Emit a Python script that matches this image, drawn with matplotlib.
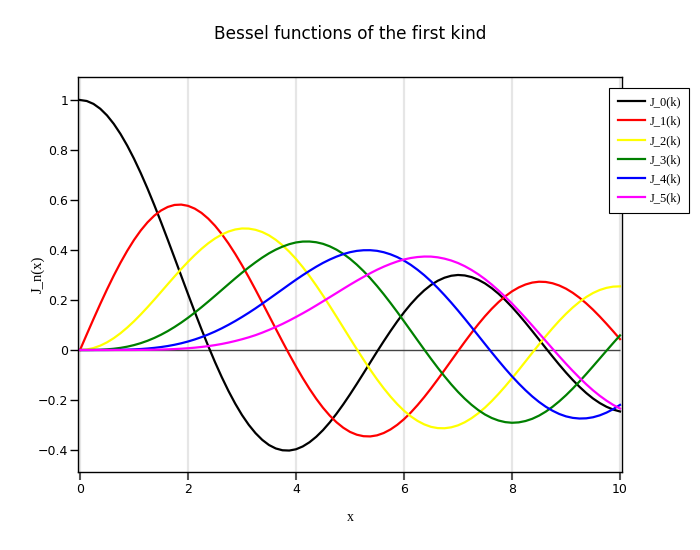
import matplotlib
matplotlib.use("Agg")
import matplotlib.pyplot as plt
from matplotlib.ticker import FuncFormatter

# sample points, step 0.125
x = [0.0, 0.125, 0.25, 0.375, 0.5, 0.625, 0.75, 0.875,
     1.0, 1.125, 1.25, 1.375, 1.5, 1.625, 1.75, 1.875,
     2.0, 2.125, 2.25, 2.375, 2.5, 2.625, 2.75, 2.875,
     3.0, 3.125, 3.25, 3.375, 3.5, 3.625, 3.75, 3.875,
     4.0, 4.125, 4.25, 4.375, 4.5, 4.625, 4.75, 4.875,
     5.0, 5.125, 5.25, 5.375, 5.5, 5.625, 5.75, 5.875,
     6.0, 6.125, 6.25, 6.375, 6.5, 6.625, 6.75, 6.875,
     7.0, 7.125, 7.25, 7.375, 7.5, 7.625, 7.75, 7.875,
     8.0, 8.125, 8.25, 8.375, 8.5, 8.625, 8.75, 8.875,
     9.0, 9.125, 9.25, 9.375, 9.5, 9.625, 9.75, 9.875,
     10.0]

j0 = [1.0, 0.9960, 0.9844, 0.9651, 0.9385, 0.9047, 0.8642, 0.8175,
      0.7652, 0.7077, 0.6459, 0.5803, 0.5118, 0.4411, 0.3690, 0.2963,
      0.2239, 0.1524, 0.0827, 0.0156, -0.0484, -0.1084, -0.1641, -0.2148,
      -0.2601, -0.2993, -0.3325, -0.3595, -0.3801, -0.3938, -0.4011, -0.4022,
      -0.3971, -0.3858, -0.3690, -0.3471, -0.3205, -0.2896, -0.2550, -0.2175,
      -0.1776, -0.1359, -0.0931, -0.0498, -0.0068, 0.0352, 0.0758, 0.1145,
      0.1506, 0.1835, 0.2129, 0.2386, 0.2601, 0.2769, 0.2892, 0.2970,
      0.3001, 0.2982, 0.2918, 0.2811, 0.2663, 0.2474, 0.2251, 0.1997,
      0.1717, 0.1413, 0.1092, 0.0759, 0.0419, 0.0078, -0.0259, -0.0588,
      -0.0903, -0.1199, -0.1473, -0.1721, -0.1939, -0.2122, -0.2271, -0.2384,
      -0.2459]
j1 = [0.0, 0.0624, 0.1240, 0.1842, 0.2423, 0.2975, 0.3492, 0.3969,
      0.4401, 0.4781, 0.5106, 0.5373, 0.5579, 0.5722, 0.5802, 0.5816,
      0.5767, 0.5655, 0.5484, 0.5254, 0.4971, 0.4638, 0.4260, 0.3842,
      0.3391, 0.2912, 0.2411, 0.1896, 0.1374, 0.0851, 0.0333, -0.0173,
      -0.0660, -0.1122, -0.1554, -0.1952, -0.2311, -0.2624, -0.2890, -0.3108,
      -0.3276, -0.3388, -0.3448, -0.3457, -0.3414, -0.3320, -0.3178, -0.2993,
      -0.2767, -0.2503, -0.2206, -0.1883, -0.1538, -0.1176, -0.0803, -0.0425,
      -0.0047, 0.0325, 0.0685, 0.1029, 0.1352, 0.1648, 0.1914, 0.2148,
      0.2346, 0.2503, 0.2620, 0.2697, 0.2731, 0.2721, 0.2670, 0.2580,
      0.2453, 0.2288, 0.2090, 0.1864, 0.1613, 0.1339, 0.1048, 0.0746,
      0.0435]
j2 = [0.0, 0.0020, 0.0078, 0.0174, 0.0306, 0.0473, 0.0671, 0.0898,
      0.1149, 0.1422, 0.1711, 0.2012, 0.2321, 0.2632, 0.2940, 0.3240,
      0.3528, 0.3798, 0.4047, 0.4269, 0.4461, 0.4618, 0.4739, 0.4821,
      0.4861, 0.4856, 0.4808, 0.4719, 0.4586, 0.4408, 0.4189, 0.3933,
      0.3641, 0.3315, 0.2959, 0.2579, 0.2178, 0.1761, 0.1334, 0.0900,
      0.0466, 0.0037, -0.0382, -0.0788, -0.1173, -0.1533, -0.1864, -0.2164,
      -0.2429, -0.2652, -0.2835, -0.2976, -0.3074, -0.3124, -0.3130, -0.3093,
      -0.3014, -0.2891, -0.2729, -0.2532, -0.2303, -0.2043, -0.1757, -0.1452,
      -0.1130, -0.0797, -0.0457, -0.0115, 0.0223, 0.0552, 0.0869, 0.1169,
      0.1448, 0.1701, 0.1925, 0.2119, 0.2279, 0.2401, 0.2486, 0.2535,
      0.2546]
j3 = [0.0, 0.0000, 0.0003, 0.0011, 0.0026, 0.0050, 0.0085, 0.0133,
      0.0196, 0.0274, 0.0369, 0.0481, 0.0610, 0.0756, 0.0919, 0.1097,
      0.1289, 0.1495, 0.1711, 0.1936, 0.2166, 0.2400, 0.2634, 0.2866,
      0.3091, 0.3305, 0.3507, 0.3697, 0.3868, 0.4014, 0.4135, 0.4233,
      0.4302, 0.4337, 0.4339, 0.4310, 0.4247, 0.4147, 0.4013, 0.3847,
      0.3648, 0.3417, 0.3157, 0.2871, 0.2561, 0.2230, 0.1881, 0.1520,
      0.1148, 0.0771, 0.0392, 0.0016, -0.0353, -0.0710, -0.1052, -0.1376,
      -0.1676, -0.1948, -0.2191, -0.2403, -0.2581, -0.2720, -0.2821, -0.2885,
      -0.2911, -0.2895, -0.2841, -0.2752, -0.2626, -0.2466, -0.2273, -0.2053,
      -0.1809, -0.1542, -0.1258, -0.0961, -0.0653, -0.0341, -0.0028, 0.0281,
      0.0584]
j4 = [0.0, 0.0000, 0.0000, 0.0001, 0.0002, 0.0004, 0.0008, 0.0015,
      0.0025, 0.0039, 0.0059, 0.0085, 0.0118, 0.0159, 0.0209, 0.0269,
      0.0340, 0.0422, 0.0515, 0.0621, 0.0738, 0.0867, 0.1008, 0.1159,
      0.1320, 0.1489, 0.1666, 0.1852, 0.2043, 0.2235, 0.2427, 0.2621,
      0.2811, 0.2993, 0.3166, 0.3332, 0.3484, 0.3618, 0.3735, 0.3835,
      0.3912, 0.3964, 0.3990, 0.3992, 0.3967, 0.3911, 0.3827, 0.3716,
      0.3576, 0.3407, 0.3211, 0.2992, 0.2748, 0.2481, 0.2195, 0.1894,
      0.1578, 0.1251, 0.0916, 0.0577, 0.0238, -0.0098, -0.0427, -0.0748,
      -0.1054, -0.1342, -0.1610, -0.1857, -0.2077, -0.2268, -0.2428, -0.2559,
      -0.2655, -0.2715, -0.2741, -0.2733, -0.2691, -0.2614, -0.2504, -0.2365,
      -0.2196]
j5 = [0.0, 0.0000, 0.0000, 0.0000, 0.0000, 0.0000, 0.0001, 0.0001,
      0.0002, 0.0004, 0.0007, 0.0012, 0.0018, 0.0026, 0.0038, 0.0052,
      0.0070, 0.0093, 0.0122, 0.0155, 0.0195, 0.0242, 0.0297, 0.0360,
      0.0430, 0.0507, 0.0594, 0.0694, 0.0804, 0.0919, 0.1043, 0.1178,
      0.1321, 0.1468, 0.1621, 0.1782, 0.1947, 0.2112, 0.2278, 0.2446,
      0.2611, 0.2770, 0.2923, 0.3071, 0.3209, 0.3333, 0.3443, 0.3541,
      0.3621, 0.3680, 0.3718, 0.3738, 0.3736, 0.3707, 0.3654, 0.3579,
      0.3479, 0.3353, 0.3202, 0.3030, 0.2835, 0.2618, 0.2380, 0.2127,
      0.1858, 0.1574, 0.1280, 0.0978, 0.0671, 0.0362, 0.0053, -0.0252,
      -0.0550, -0.0837, -0.1112, -0.1372, -0.1613, -0.1831, -0.2026, -0.2197,
      -0.2341]

series = [j0, j1, j2, j3, j4, j5]
labels = ["J_0(k)", "J_1(k)", "J_2(k)", "J_3(k)", "J_4(k)", "J_5(k)"]
colors = ["black", "red", "yellow", "green", "blue", "magenta"]

fig = plt.figure(figsize=(7, 5.5), dpi=100)
ax = fig.add_axes([78 / 700, 1 - 472 / 550, 544 / 700, 395 / 550])

# light vertical grid only
ax.set_axisbelow(True)
ax.xaxis.grid(True, color="#e6e6e6", linewidth=1.6)
ax.yaxis.grid(False)

# zero line
ax.hlines(0, x[0], x[-1], color="#444444", linewidth=1, zorder=1)

for y, lab, c in zip(series, labels, colors):
    ax.plot(x, y, color=c, linewidth=1.6, label=lab, zorder=2)

ax.set_xlim(-0.037, 10.037)
ax.set_ylim(-0.488, 1.092)
ax.set_xticks([0, 2, 4, 6, 8, 10])
ax.set_yticks([-0.4, -0.2, 0, 0.2, 0.4, 0.6, 0.8, 1])
ax.yaxis.set_major_formatter(FuncFormatter(lambda v, p: ("%g" % round(v, 2)).replace("-", "\u2212")))
ax.tick_params(axis="x", direction="out", length=5.5, width=1.5, pad=2.5, labelsize=9, color="#555555")
ax.tick_params(axis="y", direction="out", length=5.5, width=1, pad=1.5, labelsize=9, color="black")

for sp in ax.spines.values():
    sp.set_linewidth(1)
    sp.set_color("black")

ax.set_xlabel("x", family="Liberation Serif", fontsize=10, labelpad=11)
ax.set_ylabel("J_n(x)", family="Liberation Serif", fontsize=10.5)
ax.yaxis.set_label_coords(-0.061, 0.5)

fig.suptitle("Bessel functions of the first kind", fontsize=12.2, y=0.955)

leg = ax.legend(loc="upper left", bbox_to_anchor=(609 / 700, 1 - 88 / 550),
                bbox_transform=fig.transFigure, borderaxespad=0,
                prop={"family": "Liberation Serif", "size": 9},
                frameon=True, fancybox=False, framealpha=1, edgecolor="black",
                handlelength=2.2, handletextpad=0.35, labelspacing=0.58, borderpad=0.68)
leg.get_frame().set_linewidth(0.8)

plt.savefig("out.png", dpi=100)
